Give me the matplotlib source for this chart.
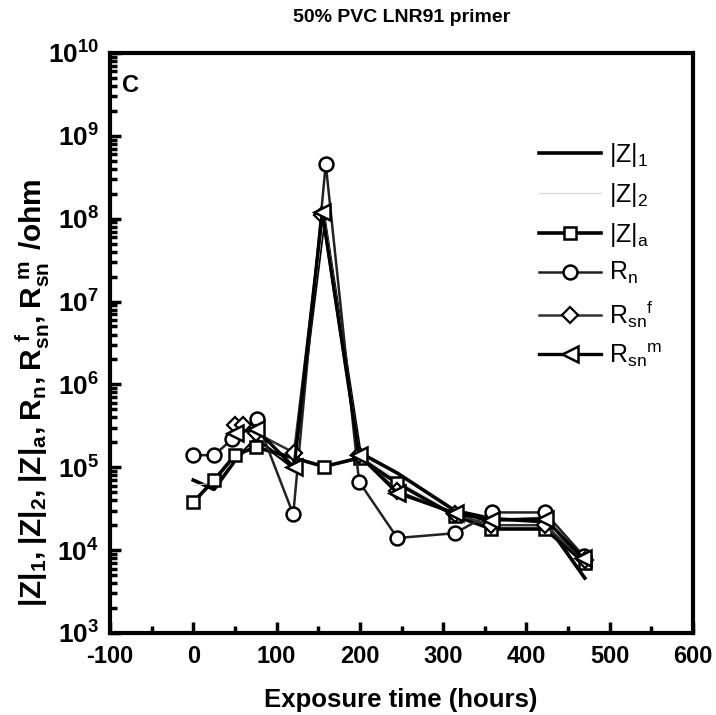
import math

import matplotlib
matplotlib.use("Agg")
import matplotlib.pyplot as plt
from matplotlib.ticker import FuncFormatter, LogLocator, MultipleLocator, NullFormatter

plt.rcParams["font.family"] = ["Liberation Sans", "DejaVu Sans"]
plt.rcParams["font.weight"] = "bold"
plt.rcParams["mathtext.fontset"] = "custom"
plt.rcParams["mathtext.rm"] = "Liberation Sans"
plt.rcParams["mathtext.bf"] = "Liberation Sans:bold"
plt.rcParams["axes.unicode_minus"] = False

# exposure times (hours) and impedance / resistance values (ohm)
t = [0, 25, 50, 75, 120, 157, 200, 245, 314, 358, 422, 470]
z1 = [7e4, 5.4e4, 1.2e5, 2.2e5, 1.0e5, 1.0e8, 1.5e5, 8.5e4, 3.0e4, 2.4e4, 2.2e4, 4.6e3]
z2 = [6e4, 6.5e4, 1.3e5, 2.0e5, 1.1e5, 1.1e8, 1.45e5, 7e4, 2.8e4, 2.2e4, 2.6e4, 6e3]
za_t = [0, 25, 50, 75, 157, 200, 245, 314, 358, 422, 470]
za = [3.8e4, 7e4, 1.4e5, 1.75e5, 1.02e5, 1.3e5, 6.4e4, 2.6e4, 1.8e4, 1.8e4, 7e3]
rn_t = [0, 25, 47, 76, 120, 159, 199, 245, 314, 359, 422, 469]
rn = [1.4e5, 1.4e5, 2.2e5, 3.8e5, 2.7e4, 4.6e8, 6.7e4, 1.4e4, 1.6e4, 2.85e4, 2.85e4, 8.4e3]
rsf_t = [50, 60, 75, 121, 155, 199, 245, 314, 358, 422, 470]
rsf = [3.2e5, 3.2e5, 2.6e5, 1.5e5, 1.1e8, 1.4e5, 5.2e4, 2.7e4, 2.0e4, 2.0e4, 7.5e3]
rsm_t = [50, 75, 121, 155, 199, 245, 314, 358, 422, 468]
rsm = [2.6e5, 2.9e5, 1.0e5, 1.2e8, 1.4e5, 4.9e4, 2.8e4, 2.3e4, 2.4e4, 8e3]

xticks = [-100, 0, 100, 200, 300, 400, 500, 600]

fig = plt.figure(figsize=(7.16, 7.15), dpi=100)
ax = fig.add_axes([0.1536, 0.1147, 0.8144, 0.8112])

ms = 9
ax.plot(t, z1, color="black", lw=2.6, label=r"$\mathregular{|Z|_1}$")
ax.plot(t, z2, color="#d8d8d8", lw=0.8, label=r"$\mathregular{|Z|_2}$")
ax.plot(za_t, za, color="black", lw=2.6, marker="s", ms=ms, mfc="white",
        mec="black", mew=1.8, label=r"$\mathregular{|Z|_a}$")
ax.plot(rn_t, rn, color="#222222", lw=1.8, marker="o", ms=ms + 1, mfc="white",
        mec="black", mew=1.8, label=r"$\mathregular{R_n}$")
ax.plot(rsf_t, rsf, color="#333333", lw=1.8, marker="D", ms=ms - 1,
        mfc="white", mec="black", mew=1.6, label=r"$\mathregular{R_{sn}}^{\mathregular{f}}$")
ax.plot(rsm_t, rsm, color="black", lw=2.4, marker="<", ms=ms + 2, mfc="white",
        mec="black", mew=1.8, label=r"$\mathregular{R_{sn}}^{\mathregular{m}}$")

ax.set_yscale("log")
ax.set_xlim(-100, 600)
ax.set_ylim(1e3, 1e10)
ax.set_xticks(xticks, [str(v) for v in xticks], fontweight="bold", fontsize=17)
ax.xaxis.set_minor_locator(MultipleLocator(50))
ax.yaxis.set_major_locator(LogLocator(base=10, numticks=20))
ax.yaxis.set_minor_locator(LogLocator(base=10, subs=range(2, 10), numticks=100))
ax.yaxis.set_minor_formatter(NullFormatter())
ax.yaxis.set_major_formatter(
    FuncFormatter(lambda v, p: r"$\mathbf{10^{%d}}$" % round(math.log10(v))))
ax.tick_params(which="both", direction="in", width=2.5)
ax.tick_params(which="major", length=8, pad=9)
ax.tick_params(axis="y", labelsize=19, pad=8)
ax.tick_params(which="minor", length=5)
for s in ax.spines.values():
    s.set_linewidth(3)

ax.set_title("50% PVC LNR91 primer", fontsize=14, fontweight="bold", pad=22)
ax.set_xlabel("Exposure time (hours)", fontsize=18.5, fontweight="bold")
ax.xaxis.set_label_coords(0.498, -0.094)
ax.set_ylabel(r"$\mathbf{|Z|_1,|Z|_2,|Z|_a,R_n,R_{sn}^{\ f},R_{sn}^{\ m}\ /ohm}$",
              fontsize=21.5)
ax.yaxis.set_label_coords(-0.1, 0.414)
ax.text(-85, 4e9, "C", fontsize=17, fontweight="bold", va="center")

leg = ax.legend(loc="upper right", bbox_to_anchor=(0.985, 0.887), frameon=False,
                prop={"size": 18, "weight": "normal"}, handlelength=2.5,
                labelspacing=0.47, handletextpad=0.3)

fig.savefig("out.png", dpi=100)
